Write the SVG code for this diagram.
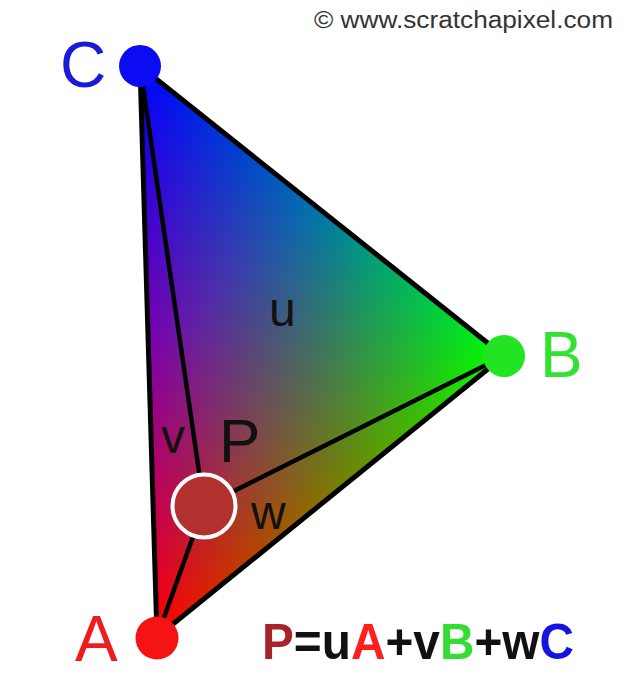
<svg xmlns="http://www.w3.org/2000/svg" width="639" height="700" viewBox="0 0 639 700">
<style>
  .edge{fill:none;stroke:#000;stroke-width:5;stroke-linejoin:round;stroke-linecap:round}
  .spoke{fill:none;stroke:#000;stroke-width:4.5;stroke-linecap:round}
  .layer{mix-blend-mode:screen}
  .sans{font-family:"Liberation Sans",Arial,sans-serif}
  .big{font-size:64px}
  .small{font-size:48px;fill:#111}
</style>
<defs>
  <linearGradient id="gA" gradientUnits="userSpaceOnUse" x1="157" y1="637" x2="428.7" y2="296"><stop offset="0" stop-color="#ff0000"/><stop offset="1" stop-color="#000000"/></linearGradient>
  <linearGradient id="gB" gradientUnits="userSpaceOnUse" x1="504" y1="356" x2="149" y2="366.6"><stop offset="0" stop-color="#00ff00"/><stop offset="0.5" stop-color="#007800"/><stop offset="1" stop-color="#000000"/></linearGradient>
  <linearGradient id="gC" gradientUnits="userSpaceOnUse" x1="140" y1="66" x2="426" y2="419.2"><stop offset="0" stop-color="#0000ff"/><stop offset="0.5" stop-color="#0000a8"/><stop offset="0.8" stop-color="#000048"/><stop offset="1" stop-color="#000000"/></linearGradient>
</defs>
<rect width="639" height="700" fill="#ffffff"/>
<text class="sans" x="314" y="28" font-size="23" fill="#333" textLength="299" lengthAdjust="spacingAndGlyphs">© www.scratchapixel.com</text>
<g id="triangle" style="isolation:isolate">
  <polygon points="157,637 504,356 140,66" fill="#000"/>
  <polygon class="layer" points="157,637 504,356 140,66" fill="url(#gA)"/>
  <polygon class="layer" points="157,637 504,356 140,66" fill="url(#gB)"/>
  <polygon class="layer" points="157,637 504,356 140,66" fill="url(#gC)"/>
</g>
<g id="connectors">
  <polygon class="edge" points="157,637 504,356 140,66"/>
  <line class="spoke" x1="204" y1="506" x2="140" y2="66"/>
  <line class="spoke" x1="204" y1="506" x2="504" y2="356"/>
  <line class="spoke" x1="204" y1="506" x2="157" y2="637"/>
</g>
<g id="node-C">
  <circle cx="140" cy="66" r="21" fill="#0c0cf4"/>
  <text class="sans big" x="60" y="87" fill="#1a1ad8">C</text>
</g>
<g id="node-B">
  <circle cx="504" cy="356" r="21" fill="#22e422"/>
  <text class="sans big" x="540" y="377" fill="#33e133">B</text>
</g>
<g id="node-A">
  <circle cx="157" cy="638" r="21.5" fill="#f41414"/>
  <text class="sans big" x="75" y="661" fill="#ee1c1c">A</text>
</g>
<g id="node-P">
  <circle cx="204" cy="506" r="31.5" fill="#b2302e" stroke="#fff" stroke-width="4"/>
  <text class="sans" x="219" y="462" font-size="62" fill="#111">P</text>
</g>
<g id="labels">
  <text class="sans small" x="269" y="326">u</text>
  <text class="sans small" x="161" y="453">v</text>
  <text class="sans small" x="251" y="529">w</text>
</g>
<g id="formula">
  <text class="sans" x="262" y="659" font-size="50" font-weight="bold" textLength="312" lengthAdjust="spacingAndGlyphs"><tspan fill="#a8242c">P</tspan><tspan fill="#111">=u</tspan><tspan fill="#ff1e1e">A</tspan><tspan fill="#111">+v</tspan><tspan fill="#33dd33">B</tspan><tspan fill="#111">+w</tspan><tspan fill="#1414e0">C</tspan></text>
</g>
</svg>
